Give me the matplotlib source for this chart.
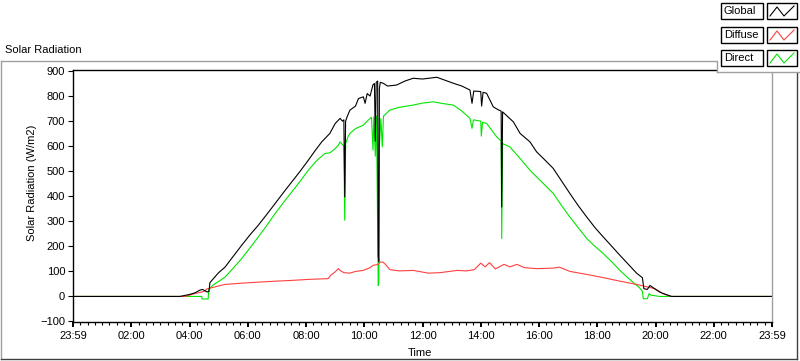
#solar radiation over one day: global, diffuse and direct
#values (hours since midnight, W/m2)
from matplotlib import pyplot as plt
from matplotlib.lines import Line2D
from matplotlib.patches import Rectangle

# global radiation (black)
global_hours = [0, 3.67, 4.0, 4.2, 4.35, 4.45, 4.6, 4.67, 4.7, 4.85, 5.0, 5.22, 5.5,
                5.79, 6.07, 6.36, 6.65, 6.94, 7.22, 7.51, 7.8, 8.08, 8.3, 8.54,
                8.82, 9.0, 9.17, 9.25, 9.3, 9.33, 9.36, 9.42, 9.51, 9.7, 9.8, 9.97,
                10.03, 10.1, 10.2, 10.3, 10.35, 10.38, 10.41, 10.46, 10.48, 10.5,
                10.52, 10.55, 10.65, 10.8, 11.11, 11.4, 11.68, 12.0, 12.49, 12.8,
                13.06, 13.35, 13.63, 13.7, 13.76, 14.0, 14.03, 14.08, 14.2, 14.43,
                14.6, 14.7, 14.72, 14.75, 15.12, 15.35, 15.69, 15.92, 16.2, 16.49,
                16.78, 17.06, 17.35, 17.64, 17.92, 18.21, 18.5, 18.78, 19.07, 19.35,
                19.55, 19.6, 19.72, 19.81, 19.98, 20.15, 20.35, 20.55, 24]
global_values = [0, 0, 8, 15, 25, 28, 18, 20, 55, 75, 95, 117, 160,
                 204, 245, 284, 327, 371, 414, 457, 500, 544, 580, 617,
                 651, 690, 711, 700, 705, 397, 700, 720, 744, 760, 790, 797,
                 771, 810, 800, 845, 850, 620, 855, 860, 160, 140,
                 830, 855, 851, 840, 844, 860, 871, 868, 875, 862,
                 851, 840, 824, 771, 820, 818, 760, 815, 811, 757,
                 745, 740, 357, 737, 697, 651, 617, 577, 545, 511,
                 460, 411, 362, 317, 275, 237, 200, 164, 128, 93,
                 75, 31, 28, 44, 30, 17, 8, 0, 0]

# diffuse radiation (red)
diffuse_hours = [0, 3.85, 4.2, 4.5, 4.6, 5.0, 5.22, 5.79, 6.36, 6.94, 7.5, 8.08, 8.5,
                 8.76, 8.85, 8.99, 9.11, 9.17, 9.3, 9.51, 9.7, 9.97, 10.2, 10.3,
                 10.48, 10.55, 10.65, 10.75, 10.88, 11.2, 11.68, 12.2, 12.6, 13.2,
                 13.5, 13.78, 14.0, 14.15, 14.3, 14.5, 14.8, 15.0, 15.24, 15.5,
                 15.92, 16.5, 16.7, 17.06, 17.64, 18.21, 18.78, 19.35, 19.98,
                 20.26, 20.55, 24]
diffuse_values = [0, 0, 12, 20, 30, 42, 48, 53, 57, 61, 64, 68, 70,
                  71, 85, 97, 111, 104, 95, 93, 100, 104, 115, 124,
                  128, 137, 137, 125, 107, 102, 104, 93, 95, 104,
                  102, 107, 133, 118, 135, 110, 128, 118, 128, 115,
                  111, 113, 117, 100, 88, 75, 61, 48, 31,
                  11, 0, 0]

# direct radiation (green)
direct_hours = [0, 4.42, 4.43, 4.64, 4.66, 4.8, 5.0, 5.22, 5.5, 5.79, 6.07, 6.36,
                6.65, 6.94, 7.22, 7.51, 7.8, 8.08, 8.35, 8.65, 8.82, 9.0, 9.11,
                9.17, 9.3, 9.33, 9.36, 9.45, 9.51, 9.7, 9.97, 10.1, 10.25, 10.3,
                10.33, 10.38, 10.42, 10.48, 10.5, 10.52, 10.57, 10.62, 10.66,
                10.88, 11.2, 11.68, 12.0, 12.37, 12.7, 13.06, 13.35, 13.63, 13.7,
                13.75, 14.0, 14.02, 14.06, 14.2, 14.4, 14.55, 14.7, 14.72, 14.75,
                15.0, 15.35, 15.69, 15.92, 16.2, 16.49, 16.78, 17.06, 17.35,
                17.64, 17.92, 18.21, 18.5, 18.78, 19.0, 19.24, 19.45, 19.55,
                19.58, 19.72, 19.78, 19.85, 20.15, 24]
direct_values = [0, 0, -10, -10, 27, 45, 60, 77, 113, 151, 193, 237,
                 283, 331, 374, 417, 460, 504, 540, 571, 573, 590, 604,
                 617, 600, 304, 610, 640, 651, 670, 684, 700, 715, 584,
                 717, 560, 720, 44, 60, 600, 710, 597, 720,
                 744, 755, 764, 772, 777, 770, 764, 740, 711, 671,
                 705, 700, 640, 695, 691, 660, 637, 620, 231, 610,
                 597, 551, 504, 477, 445, 411, 362, 317, 274,
                 231, 200, 171, 138, 104, 80, 55, 35, 20,
                 -9, -9, 11, 5, 0, 0]

# x axis labels every 2 hours
tick_hours = list(range(0, 25, 2))
tick_labels = ['23:59', '02:00', '04:00', '06:00', '08:00', '10:00', '12:00',
               '14:00', '16:00', '18:00', '20:00', '22:00', '23:59']

series_names = ['Global', 'Diffuse', 'Direct']
series_colors = ['black', '#ff4040', '#00e600']

plt.rcParams['font.family'] = ['Liberation Sans', 'DejaVu Sans']
plt.rcParams['font.size'] = 8

fig = plt.figure(figsize=(8, 3.61), dpi=100)

def fx(px):
    return px / 800

def fy(py):
    return 1 - py / 361

ax = fig.add_axes([fx(73), fy(322), fx(772) - fx(73), fy(70) - fy(322)])

ax.plot(direct_hours, direct_values, color=series_colors[2], linewidth=0.8)
ax.plot(diffuse_hours, diffuse_values, color=series_colors[1], linewidth=0.8)
ax.plot(global_hours, global_values, color=series_colors[0], linewidth=0.8)

ax.set_xlim(0, 24)
ax.set_ylim(-102, 904)
ax.set_xticks(tick_hours)
ax.set_xticklabels(tick_labels)
ax.set_xticks([q / 4 for q in range(0, 97)], minor=True)
ax.set_yticks(range(-100, 901, 100))
ax.tick_params(axis='both', direction='out', length=3.6, width=0.8, pad=2)
ax.tick_params(axis='x', which='minor', length=2.2, width=0.8)
ax.tick_params(axis='x', which='major', width=1.4, pad=3)

for side in ['left', 'top', 'bottom']:
    ax.spines[side].set_color('black')
    ax.spines[side].set_linewidth(1)
ax.spines['right'].set_color('#a0a0a0')
ax.spines['right'].set_linewidth(1)

fig.text(fx(420), fy(353), 'Time', ha='center', va='center', fontsize=8)
fig.text(fx(32), fy(183), 'Solar Radiation (W/m2)', rotation=90,
         ha='center', va='center', fontsize=8)
fig.text(fx(5), fy(50), 'Solar Radiation', ha='left', va='center', fontsize=8)

# outer panel frame
fig.add_artist(Line2D([fx(1), fx(796)], [fy(61), fy(61)], color='#a0a0a0', lw=1))
fig.add_artist(Line2D([fx(1), fx(1)], [fy(61), fy(359)], color='#a0a0a0', lw=1))
fig.add_artist(Line2D([fx(1), fx(797)], [fy(359), fy(359)], color='#404040', lw=1))
fig.add_artist(Line2D([fx(797), fx(797)], [fy(61), fy(359)], color='#404040', lw=1))

# legend panel in the top right corner
fig.add_artist(Rectangle((fx(717), fy(72)), fx(83), fy(0) - fy(72),
                         facecolor='white', edgecolor='none', zorder=5))
fig.add_artist(Line2D([fx(717), fx(717)], [fy(61), fy(72)], color='#a0a0a0', lw=1, zorder=6))
fig.add_artist(Line2D([fx(717), fx(800)], [fy(72), fy(72)], color='#a0a0a0', lw=1, zorder=6))

box_tops = [3, 27, 50]
for name, color, top in zip(series_names, series_colors, box_tops):
    fig.add_artist(Rectangle((fx(721), fy(top + 16)), fx(42), fy(top) - fy(top + 16),
                             facecolor='white', edgecolor='black', lw=1, zorder=7))
    fig.add_artist(Rectangle((fx(767), fy(top + 16)), fx(30), fy(top) - fy(top + 16),
                             facecolor='white', edgecolor='black', lw=1, zorder=7))
    fig.text(fx(724), fy(top + 8), name, ha='left', va='center', fontsize=8, zorder=8)
    zig_x = [fx(770), fx(777), fx(784), fx(794)]
    zig_y = [fy(top + 13), fy(top + 4), fy(top + 13), fy(top + 3)]
    fig.add_artist(Line2D(zig_x, zig_y, color=color, lw=0.8, zorder=8))

fig.savefig('out.png', dpi=100)
